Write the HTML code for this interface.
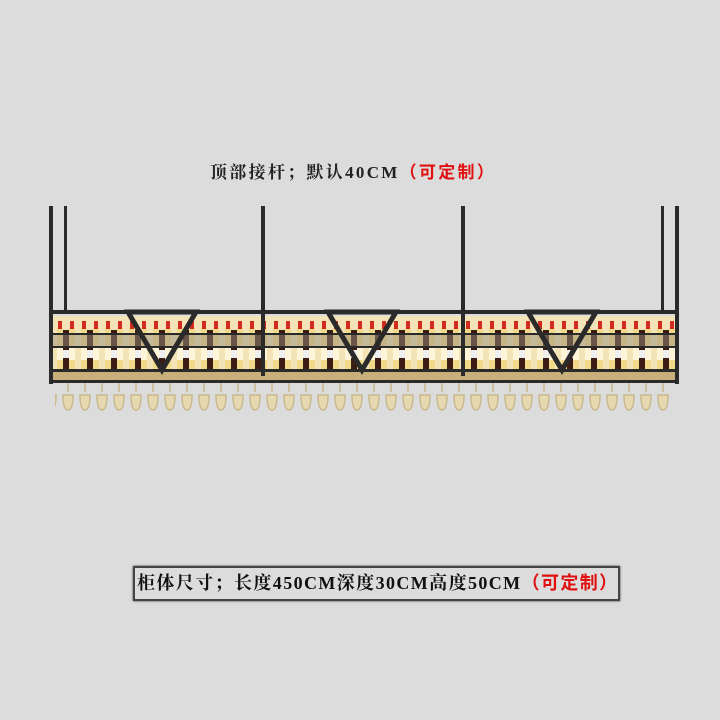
<!DOCTYPE html>
<html><head><meta charset="utf-8"><style>
body{margin:0;width:720px;height:720px;background:#dcdcdc;overflow:hidden;font-family:"Liberation Serif","Noto Serif CJK SC",serif}
.t{position:absolute;left:210px;top:158px;font-size:17px;font-weight:bold;color:#222;letter-spacing:2.3px;white-space:nowrap}
.r{color:#e01010;font-family:"Liberation Sans","Noto Sans CJK SC",sans-serif}
.box{position:absolute;left:133px;top:566px;width:481px;height:31px;border:2px solid #444;box-shadow:0 0 2px #333;font-size:18px;font-weight:bold;color:#111;line-height:31px;padding-left:2px;box-sizing:content-box;white-space:nowrap;letter-spacing:1.4px;overflow:hidden}
</style></head><body>
<div class="t">顶部接杆；默认40CM<span class="r">（可定制）</span></div>
<svg width="720" height="720" style="position:absolute;left:0;top:0">
<defs>
<pattern id="b" x="55" y="0" width="12" height="720" patternUnits="userSpaceOnUse">
<rect x="2" y="328" width="6" height="42" fill="#f1d98a"/>
<rect x="3" y="321" width="4" height="8" fill="#d32a1f"/>
<rect x="2" y="346" width="6" height="14" fill="#fff6da"/>
</pattern>
<pattern id="b2" x="61" y="0" width="24" height="720" patternUnits="userSpaceOnUse">
<rect x="2" y="330" width="6" height="40" fill="#3a1c12"/>
<rect x="2" y="350" width="6" height="8" fill="#eee"/>
</pattern>
<pattern id="g" x="60" y="0" width="17" height="720" patternUnits="userSpaceOnUse">
<path d="M8 383 L8 392 M3 395 Q3 410 8 410 Q13 410 13 395 Z" stroke="#c8b88f" stroke-width="1.5" fill="#e6d9b0"/>
</pattern>
</defs>
<rect x="52" y="316" width="624" height="54" fill="#f3e4b8"/>
<rect x="52" y="316" width="624" height="54" fill="url(#b)"/>
<rect x="52" y="316" width="624" height="54" fill="url(#b2)"/>
<rect x="52" y="335" width="624" height="11" fill="#9a8f80" opacity="0.5"/>
<rect x="52" y="370" width="624" height="12" fill="#c9b07a"/>
<rect x="55" y="383" width="615" height="30" fill="url(#g)"/>
<g fill="#2a2a2a">
<rect x="49" y="206" width="4" height="178"/><rect x="64" y="206" width="3" height="106"/>
<rect x="261" y="206" width="4" height="170"/><rect x="461" y="206" width="4" height="170"/>
<rect x="661" y="206" width="3" height="106"/><rect x="675" y="206" width="4" height="178"/>
<rect x="49" y="310" width="630" height="4"/>
<rect x="49" y="333" width="630" height="2"/>
<rect x="49" y="346" width="630" height="2"/>
<rect x="49" y="369" width="630" height="3"/>
<rect x="49" y="380" width="630" height="3"/>
</g>
<g fill="none" stroke="#2a2a2a" stroke-width="5">
<path d="M128 312 L196 312 L162 370 Z"/>
<path d="M328 312 L396 312 L362 370 Z"/>
<path d="M528 312 L596 312 L562 370 Z"/>
</g>
</svg>
<div class="box">柜体尺寸；长度450CM深度30CM高度50CM<span class="r">（可定制）</span></div>
</body></html>
